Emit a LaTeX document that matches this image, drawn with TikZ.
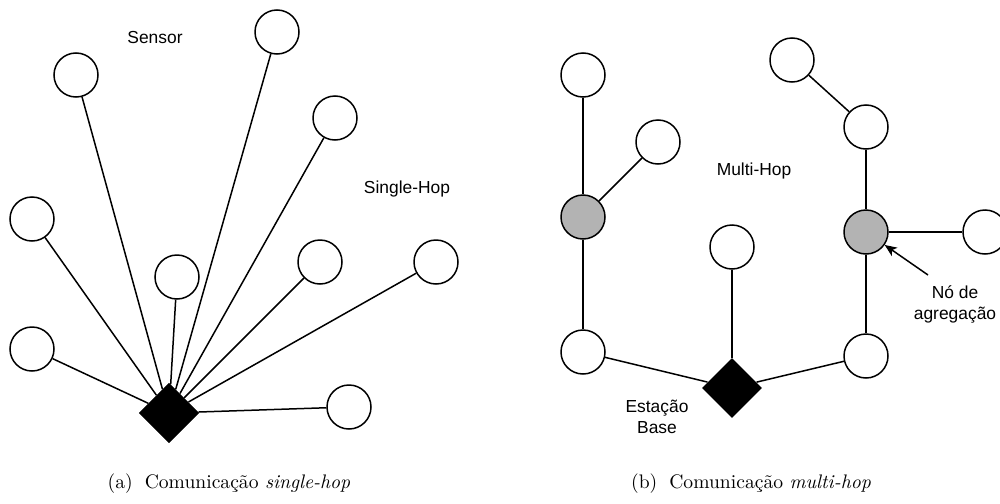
\documentclass[tikz,border=0pt]{standalone}
\usepackage{fontspec}
\newfontfamily\lblfont{Liberation Sans}
\usetikzlibrary{shapes.geometric,arrows.meta}
\begin{document}
\begin{tikzpicture}[x=0.5pt,y=-0.5pt,
  sensor/.style={circle,draw,line width=0.75pt,fill=white,minimum size=22pt,inner sep=0pt},
  aggnode/.style={sensor,fill=aggray},
  basestation/.style={diamond,fill=black,draw=none,minimum size=30pt,inner sep=0pt,shape aspect=1},
  link/.style={line width=0.75pt},
  lbl/.style={font=\lblfont\fontsize{8.7}{10.5}\selectfont,align=center,inner sep=0pt},
  capt/.style={font=\fontsize{9.8}{12}\selectfont,inner sep=0pt,anchor=base}]
\definecolor{aggray}{HTML}{B3B3B3}
\useasboundingbox (0,0) rectangle (1000,503);

% ---- (a) single-hop star ----
\node[basestation] (da) at (169,413) {};
\node[sensor] (a1) at (76,75) {};
\node[sensor] (a2) at (277,32) {};
\node[sensor] (a3) at (335,118) {};
\node[sensor] (a4) at (32,219) {};
\node[sensor] (a5) at (177,277) {};
\node[sensor] (a6) at (320,262) {};
\node[sensor] (a7) at (436,262) {};
\node[sensor] (a8) at (32,349) {};
\node[sensor] (a9) at (349,407) {};
\foreach \n in {a1,a2,a3,a4,a5,a6,a7,a8,a9}
  \draw[link] (\n) -- (da);
\node[basestation] at (da) {};

\node[lbl] (lsensor) at (155,38) {Sensor};
\node[lbl] (lsingle) at (407,189) {Single-Hop};

% ---- (b) multi-hop tree ----
\node[basestation] (db) at (732,388) {};
\node[sensor] (b1) at (583,75) {};
\node[sensor] (b2) at (658,142) {};
\node[aggnode] (b3) at (583,217) {};
\node[sensor] (b4) at (792,60) {};
\node[sensor] (b5) at (866,127) {};
\node[aggnode] (b6) at (866,232) {};
\node[sensor] (b7) at (985,232) {};
\node[sensor] (b8) at (732,247) {};
\node[sensor] (b9) at (583,352) {};
\node[sensor] (b10) at (866,356) {};
\draw[link] (b1) -- (b3);
\draw[link] (b2) -- (b3);
\draw[link] (b3) -- (b9);
\draw[link] (b9) -- (db);
\draw[link] (b4) -- (b5);
\draw[link] (b5) -- (b6);
\draw[link] (b6) -- (b7);
\draw[link] (b6) -- (b10);
\draw[link] (b10) -- (db);
\draw[link] (b8) -- (db);

\node[lbl] (lmulti) at (754,171) {Multi-Hop};
\node[lbl] (lbase) at (657,417) {Estação\\Base};
\node[lbl] (lagg) at (955,304) {Nó de\\agregação};
\coordinate (arrtail) at (928,275);
\draw[link,-{Stealth[length=6pt,width=5pt,inset=1.5pt]}] (arrtail) -- (b6);

% ---- captions ----
\node[capt] (capa) at (229,488) {(a)\hskip 6pt Comunicação \textit{single-hop}};
\node[capt] (capb) at (751,488) {(b)\hskip 6pt Comunicação \textit{multi-hop}};
\end{tikzpicture}
\end{document}
